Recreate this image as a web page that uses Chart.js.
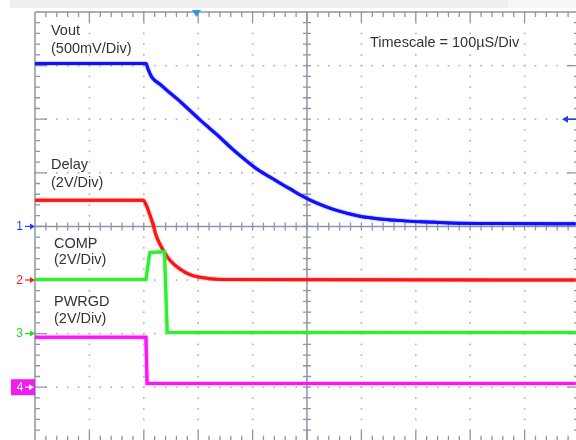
<!DOCTYPE html>
<html>
<head>
<meta charset="utf-8">
<script src="https://cdn.jsdelivr.net/npm/chart.js@4.4.1/dist/chart.umd.min.js"></script>
<style>
html,body{margin:0;padding:0;background:#fff;overflow:hidden;}
canvas{display:block;}
</style>
</head>
<body>
<canvas id="c" width="576" height="440"></canvas>
<script>
// Time in microseconds (100 µs/div), amplitude in screen divisions (centre = 0)
const voutT = [0,204,208,215,230,248,267,285,303,322,340,358,377,404,432,450,469,487,506,524,542,561,579,597,634,671,708,763,855,994];
const voutV = [3.04,3.04,2.93,2.78,2.65,2.49,2.33,2.16,1.99,1.82,1.66,1.49,1.32,1.10,0.92,0.81,0.70,0.59,0.49,0.41,0.34,0.28,0.23,0.19,0.14,0.11,0.085,0.065,0.055,0.05];
const delayT = [0,199,204,211,217,222,230,239,248,267,285,303,340,994];
const delayV = [0.49,0.49,0.41,0.22,0.04,-0.15,-0.34,-0.50,-0.63,-0.80,-0.90,-0.95,-0.99,-1.0];
const compT = [0,204,211,238,243,994];
const compV = [-0.99,-0.99,-0.49,-0.47,-1.98,-1.98];
const pwrgdT = [0,204,206,994];
const pwrgdV = [-2.07,-2.07,-2.93,-2.93];

const labels = [
  {t:'Vout', x:51, y:35}, {t:'(500mV/Div)', x:51, y:53},
  {t:'Delay', x:51, y:169}, {t:'(2V/Div)', x:51, y:187},
  {t:'COMP', x:54, y:248}, {t:'(2V/Div)', x:54, y:264},
  {t:'PWRGD', x:54, y:306}, {t:'(2V/Div)', x:54, y:323},
  {t:'Timescale = 100µS/Div', x:370, y:47}
];

function pts(t, v){ return t.map((x,i)=>({x:x, y:v[i]})); }

const scopePlugin = {
  id:'scope',
  beforeDatasetsDraw(chart){
    const ctx = chart.ctx, xs = chart.scales.x, ys = chart.scales.y;
    const X = d => xs.getPixelForValue(d*100);
    const Y = d => ys.getPixelForValue(d);
    ctx.save();
    // top band
    ctx.fillStyle = '#efefef'; ctx.fillRect(10,0,498,8);
    ctx.fillStyle = '#f6f6f6'; ctx.fillRect(508,0,68,8);
    // dotted grid
    ctx.fillStyle = '#a9afc2';
    for (let i=1;i<10;i++){
      if (i===5) continue;
      for (let k=-20;k<=20;k++){
        ctx.fillRect(X(i)-0.75, Y(k/5)-0.75, 1.6, 1.6);
      }
    }
    for (let j=-3;j<=3;j++){
      if (j===0) continue;
      for (let k=0;k<=50;k++){
        ctx.fillRect(X(k/5)-0.75, Y(j)-0.75, 1.6, 1.6);
      }
    }
    // borders and centre axes
    ctx.strokeStyle = '#8d95a8'; ctx.lineWidth = 1.5;
    const L = X(0), R = X(10), T = Y(4), B = Y(-4), CX = X(5), CY = Y(0);
    ctx.beginPath();
    ctx.moveTo(L,T); ctx.lineTo(L,B);
    ctx.moveTo(L,T); ctx.lineTo(R,T);
    ctx.moveTo(CX,T); ctx.lineTo(CX,B);
    ctx.moveTo(L,CY); ctx.lineTo(R,CY);
    ctx.stroke();
    ctx.lineWidth = 1.3;
    ctx.beginPath();
    for (let k=1;k<50;k++){
      const x = X(k/5), major = k%5===0;
      const len = major ? 10 : 5;
      ctx.moveTo(x,T); ctx.lineTo(x,T+len);
      ctx.moveTo(x,B); ctx.lineTo(x,B-len);
      ctx.moveTo(x,CY-4); ctx.lineTo(x,CY+4);
    }
    for (let k=-19;k<20;k++){
      const y = Y(k/5), major = k%5===0;
      const len = major ? 12 : 5;
      ctx.moveTo(L,y); ctx.lineTo(L+len,y);
      ctx.moveTo(R,y); ctx.lineTo(R-len,y);
      ctx.moveTo(CX-4,y); ctx.lineTo(CX+4,y);
    }
    ctx.stroke();
    // channel markers
    function marker(txt, col, y){
      ctx.fillStyle = col; ctx.strokeStyle = col;
      ctx.font = '12px "Liberation Sans", Arial, sans-serif';
      ctx.textBaseline = 'middle'; ctx.textAlign = 'right';
      ctx.fillText(txt, 23, y+0.5);
      ctx.lineWidth = 1.2;
      ctx.beginPath(); ctx.moveTo(25,y); ctx.lineTo(32,y); ctx.stroke();
      ctx.beginPath(); ctx.moveTo(35,y); ctx.lineTo(30,y-3); ctx.lineTo(30,y+3); ctx.closePath(); ctx.fill();
    }
    marker('1','#1d3cf5', Y(0));
    marker('2','#f01e1e', Y(-1));
    marker('3','#22d822', Y(-2));
    // channel 4 box
    const y4 = Y(-3);
    ctx.fillStyle = '#f01cf0'; ctx.fillRect(11, y4-8, 24, 16);
    ctx.fillStyle = '#ffffff'; ctx.strokeStyle = '#ffffff';
    ctx.textAlign = 'center'; ctx.fillText('4', 20, y4+0.5);
    ctx.beginPath(); ctx.moveTo(25,y4); ctx.lineTo(31,y4); ctx.stroke();
    ctx.beginPath(); ctx.moveTo(34,y4); ctx.lineTo(29,y4-3); ctx.lineTo(29,y4+3); ctx.closePath(); ctx.fill();
    // right arrow (ref level)
    const yr = Y(2);
    ctx.strokeStyle = '#1d3cf5'; ctx.fillStyle = '#1d3cf5'; ctx.lineWidth = 1.5;
    ctx.beginPath(); ctx.moveTo(567,yr); ctx.lineTo(576,yr); ctx.stroke();
    ctx.beginPath(); ctx.moveTo(562,yr); ctx.lineTo(568,yr-3.5); ctx.lineTo(568,yr+3.5); ctx.closePath(); ctx.fill();
    // trigger marker
    ctx.fillStyle = '#2a9be0';
    ctx.beginPath(); ctx.moveTo(192,10); ctx.lineTo(201,10); ctx.lineTo(196.5,17); ctx.closePath(); ctx.fill();
    // labels
    ctx.fillStyle = '#333333';
    ctx.font = '14.5px "Liberation Sans", Arial, sans-serif';
    ctx.textAlign = 'left'; ctx.textBaseline = 'alphabetic';
    labels.forEach(l => ctx.fillText(l.t, l.x, l.y));
    ctx.restore();
  },
  beforeDatasetDraw(chart, args){
    const ctx = chart.ctx;
    ctx.save();
    ctx.shadowColor = args.meta.dataset.options.borderColor;
    ctx.shadowBlur = 1.5;
  },
  afterDatasetDraw(chart){ chart.ctx.restore(); }
};

const ds = (data, color, smooth) => ({data, borderColor:color, borderWidth:3, pointRadius:0,
  tension: smooth ? 0.4 : 0, cubicInterpolationMode: smooth ? 'monotone' : 'default', fill:false});

new Chart(document.getElementById('c'), {
  type:'line',
  data:{datasets:[
    ds(pts(pwrgdT,pwrgdV), '#ff10ff', false),
    ds(pts(compT,compV), '#2cf02c', false),
    ds(pts(delayT,delayV), '#ff1414', true),
    ds(pts(voutT,voutV), '#1010ff', true)
  ]},
  options:{
    responsive:false, animation:false, devicePixelRatio:1,
    layout:{padding:{left:35, top:12, right:0, bottom:0}},
    plugins:{legend:{display:false}, tooltip:{enabled:false}},
    scales:{
      x:{type:'linear', display:false, min:0, max:994.5},
      y:{type:'linear', display:false, min:-3.985, max:4}
    }
  },
  plugins:[scopePlugin]
});
</script>
</body>
</html>
